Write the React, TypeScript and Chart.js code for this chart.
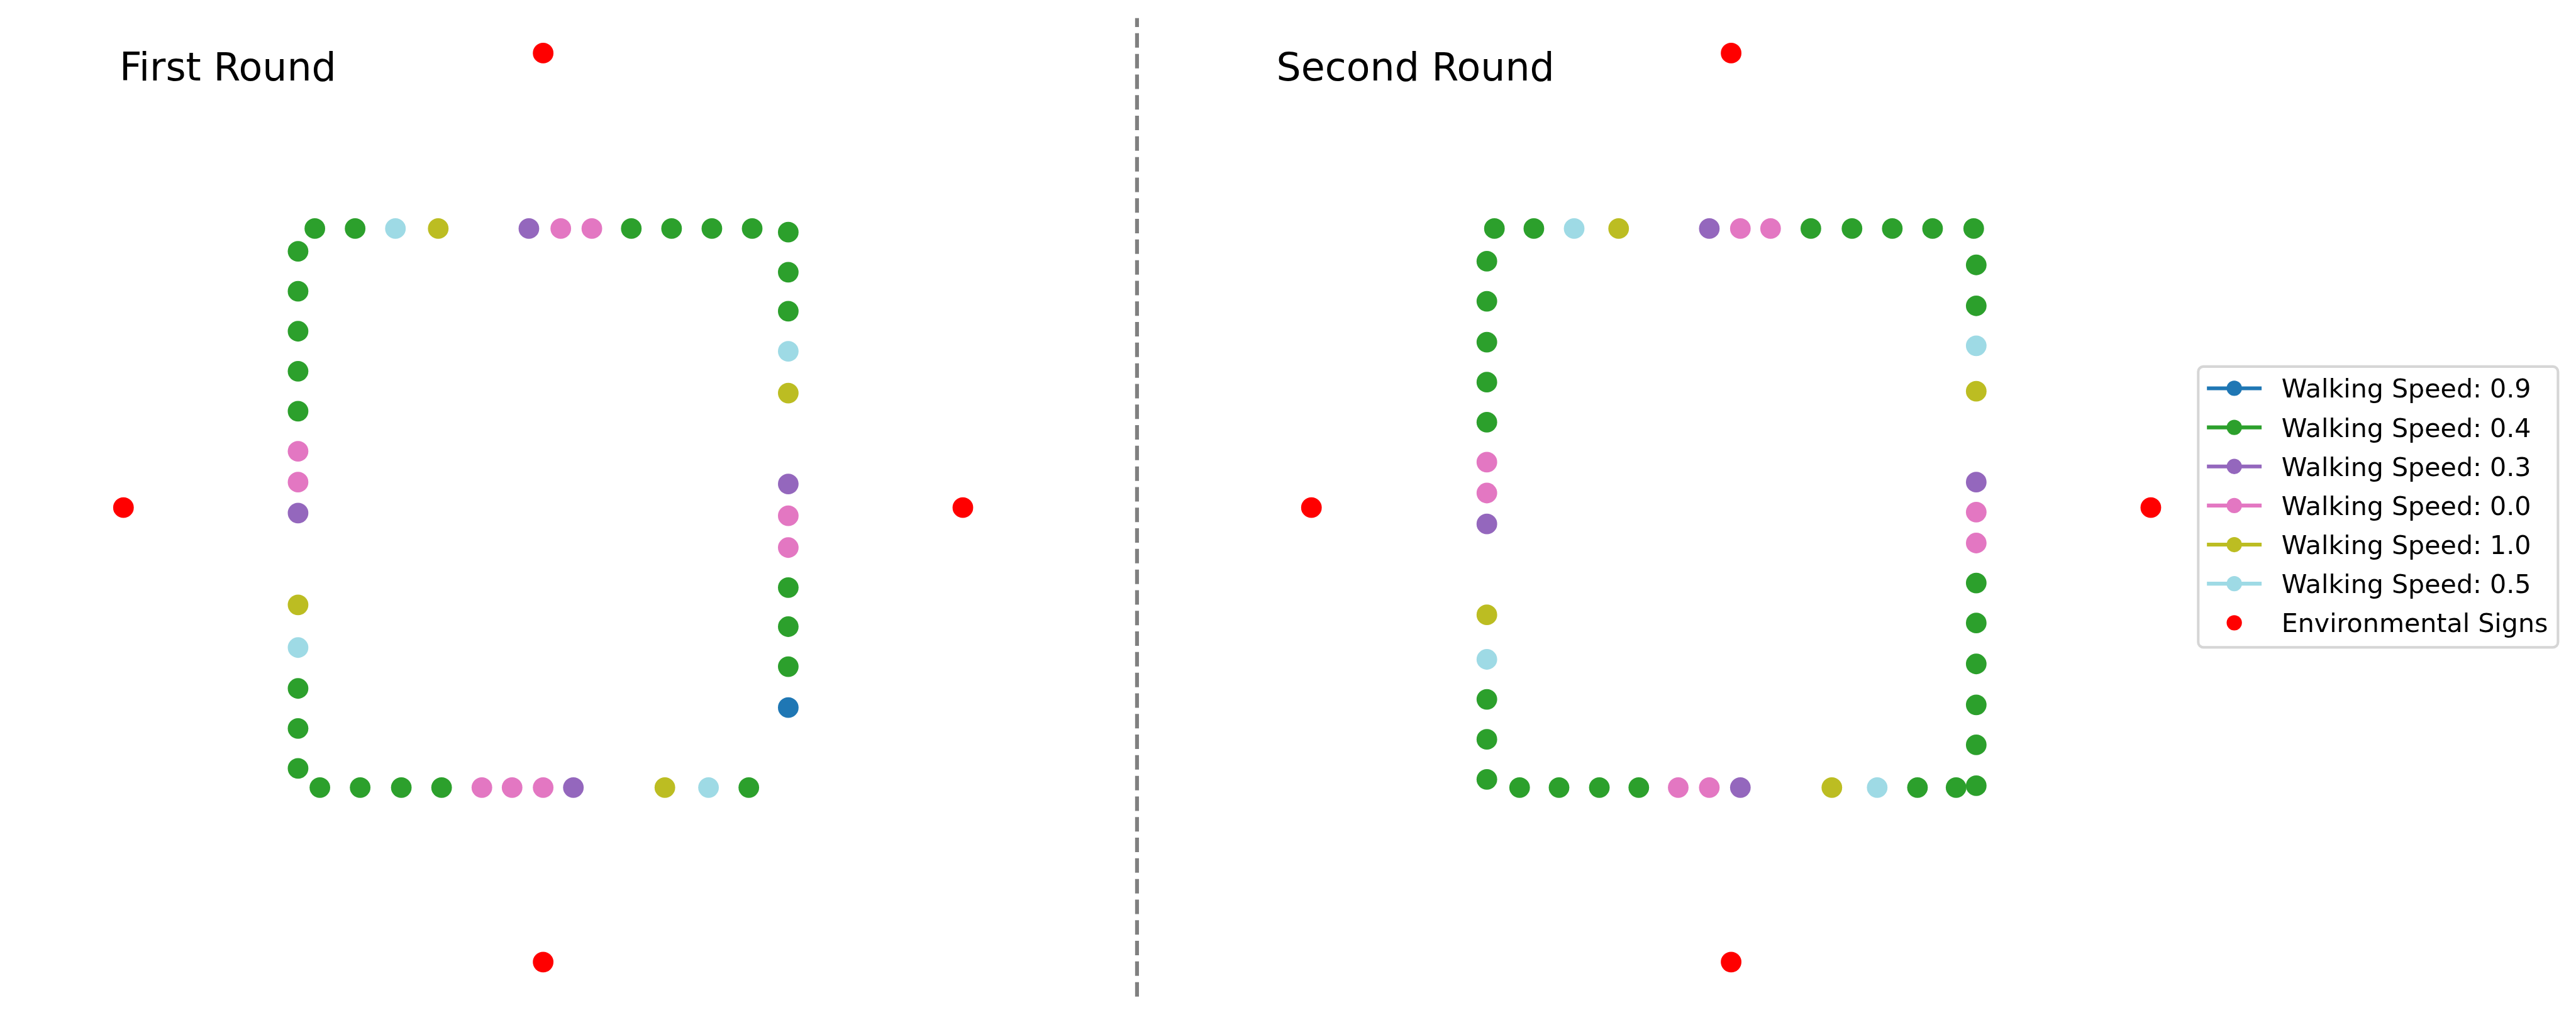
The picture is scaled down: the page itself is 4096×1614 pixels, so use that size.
import React, { useEffect, useRef } from 'react';
import { Chart, registerables } from 'chart.js';

Chart.register(...registerables);

// ---------------- data ----------------
const SPEEDS = [0.9, 0.4, 0.3, 0.0, 1.0, 0.5];
const SPEED_LABELS = [
  'Walking Speed: 0.9',
  'Walking Speed: 0.4',
  'Walking Speed: 0.3',
  'Walking Speed: 0.0',
  'Walking Speed: 1.0',
  'Walking Speed: 0.5',
];
const SPEED_COLORS = ['#1f77b4', '#2ca02c', '#9467bd', '#e377c2', '#bcbd22', '#9edae5'];
const SIGN_LABEL = 'Environmental Signs';
const SIGN_COLOR = '#ff0000';
const SIGN_X = [5, 0, 10, 5];
const SIGN_Y = [10, 5, 5, 0];

const ROUND_TITLES = ['First Round', 'Second Round'];

// Round 1: top row, right column, bottom row (right to left), left column (bottom to top)
const R1_X = [
  2.28, 2.76, 3.24, 3.75, 4.83, 5.21, 5.58, 6.05, 6.53, 7.01, 7.49,
  7.92, 7.92, 7.92, 7.92, 7.92, 7.92, 7.92, 7.92, 7.92, 7.92, 7.92, 7.92,
  7.45, 6.97, 6.45, 5.36, 5.0, 4.63, 4.27, 3.79, 3.31, 2.82, 2.34,
  2.08, 2.08, 2.08, 2.08, 2.08, 2.08, 2.08, 2.08, 2.08, 2.08, 2.08, 2.08, 2.08,
];
const R1_Y = [
  8.07, 8.07, 8.07, 8.07, 8.07, 8.07, 8.07, 8.07, 8.07, 8.07, 8.07,
  8.03, 7.59, 7.16, 6.72, 6.26, 5.26, 4.91, 4.56, 4.12, 3.69, 3.25, 2.8,
  1.92, 1.92, 1.92, 1.92, 1.92, 1.92, 1.92, 1.92, 1.92, 1.92, 1.92,
  2.13, 2.57, 3.01, 3.46, 3.93, 4.94, 5.28, 5.62, 6.06, 6.5, 6.94, 7.38, 7.82,
];
const R1_SPEED = [
  0.4, 0.4, 0.5, 1.0, 0.3, 0.0, 0.0, 0.4, 0.4, 0.4, 0.4,
  0.4, 0.4, 0.4, 0.5, 1.0, 0.3, 0.0, 0.0, 0.4, 0.4, 0.4, 0.9,
  0.4, 0.5, 1.0, 0.3, 0.0, 0.0, 0.0, 0.4, 0.4, 0.4, 0.4,
  0.4, 0.4, 0.4, 0.5, 1.0, 0.3, 0.0, 0.0, 0.4, 0.4, 0.4, 0.4, 0.4,
];

// Round 2
const R2_X = [
  2.18, 2.65, 3.13, 3.66, 4.74, 5.11, 5.47, 5.95, 6.44, 6.92, 7.4, 7.89,
  7.92, 7.92, 7.92, 7.92, 7.92, 7.92, 7.92, 7.92, 7.92, 7.92, 7.92, 7.92, 7.92,
  7.68, 7.22, 6.74, 6.2, 5.11, 4.74, 4.37, 3.9, 3.43, 2.95, 2.48,
  2.09, 2.09, 2.09, 2.09, 2.09, 2.09, 2.09, 2.09, 2.09, 2.09, 2.09, 2.09, 2.09,
];
const R2_Y = [
  8.07, 8.07, 8.07, 8.07, 8.07, 8.07, 8.07, 8.07, 8.07, 8.07, 8.07, 8.07,
  7.67, 7.22, 6.78, 6.28, 5.28, 4.95, 4.61, 4.17, 3.73, 3.28, 2.83, 2.39, 1.94,
  1.92, 1.92, 1.92, 1.92, 1.92, 1.92, 1.92, 1.92, 1.92, 1.92, 1.92,
  2.01, 2.45, 2.89, 3.33, 3.82, 4.82, 5.16, 5.5, 5.94, 6.38, 6.82, 7.27, 7.71,
];
const R2_SPEED = [
  0.4, 0.4, 0.5, 1.0, 0.3, 0.0, 0.0, 0.4, 0.4, 0.4, 0.4, 0.4,
  0.4, 0.4, 0.5, 1.0, 0.3, 0.0, 0.0, 0.4, 0.4, 0.4, 0.4, 0.4, 0.4,
  0.4, 0.4, 0.5, 1.0, 0.3, 0.0, 0.0, 0.4, 0.4, 0.4, 0.4,
  0.4, 0.4, 0.4, 0.5, 1.0, 0.3, 0.0, 0.0, 0.4, 0.4, 0.4, 0.4, 0.4,
];

const AXIS_MIN = -0.5;
const AXIS_MAX = 10.5;

// ---------------- layout (reference px, scaled by S) ----------------
const S = 4096 / 4146;
const W = 4096;
const H = 1614;
const LEFT_W = 1877;
const RIGHT_W = W - LEFT_W;
const FONT_FAMILY = '"DejaVu Sans", "Liberation Sans", sans-serif';

const AX_TOP = 12.35;
const AX_BOTTOM = 1621.65;
const AX1_LEFT = 131.15;
const AX1_RIGHT = 1617.25;
const AX2_LEFT = 2043.15;
const AX2_RIGHT = 3529.25;
const POINT_R = 16.6 * S;

function buildDatasets(xs: number[], ys: number[], sp: number[]) {
  const ds: any[] = SPEEDS.map((s, i) => ({
    label: SPEED_LABELS[i],
    data: xs
      .map((x, k) => ({ x, y: ys[k], s: sp[k] }))
      .filter((p) => p.s === s)
      .map((p) => ({ x: p.x, y: p.y })),
    backgroundColor: SPEED_COLORS[i],
    borderColor: SPEED_COLORS[i],
    pointBackgroundColor: SPEED_COLORS[i],
    pointRadius: POINT_R,
    pointHoverRadius: POINT_R,
    pointBorderWidth: 0,
    borderWidth: 0,
    showLine: false,
    clip: false,
  }));
  ds.push({
    label: SIGN_LABEL,
    data: SIGN_X.map((x, k) => ({ x, y: SIGN_Y[k] })),
    backgroundColor: SIGN_COLOR,
    borderColor: SIGN_COLOR,
    pointBackgroundColor: SIGN_COLOR,
    pointRadius: POINT_R,
    pointHoverRadius: POINT_R,
    pointBorderWidth: 0,
    borderWidth: 0,
    showLine: false,
    clip: false,
  });
  return ds;
}

function titlePlugin(text: string, x: number, y: number) {
  return {
    id: 'panelTitle',
    afterDraw(chart: any) {
      const ctx = chart.ctx;
      ctx.save();
      ctx.font = `${62.5 * S}px ${FONT_FAMILY}`;
      ctx.fillStyle = '#000000';
      ctx.textAlign = 'left';
      ctx.textBaseline = 'alphabetic';
      ctx.fillText(text, x, y);
      ctx.restore();
    },
  };
}

const dividerPlugin = {
  id: 'divider',
  afterDraw(chart: any) {
    const ctx = chart.ctx;
    ctx.save();
    ctx.strokeStyle = '#808080';
    ctx.lineWidth = 6.25 * S;
    ctx.lineCap = 'butt';
    ctx.setLineDash([23.3 * S, 9.9 * S]);
    ctx.beginPath();
    ctx.moveTo(1830 * S, 1604 * S);
    ctx.lineTo(1830 * S, 29 * S);
    ctx.stroke();
    ctx.restore();
  },
};

function legendPlugin(offsetX: number) {
  const fx = (v: number) => v * S - offsetX;
  const fy = (v: number) => v * S;
  return {
    id: 'boxLegend',
    afterDraw(chart: any) {
      const ctx = chart.ctx;
      ctx.save();
      const x0 = fx(3538);
      const x1 = fx(4117);
      const y0 = fy(590);
      const y1 = fy(1042);
      const r = 8.3 * S;
      ctx.beginPath();
      ctx.moveTo(x0 + r, y0);
      ctx.lineTo(x1 - r, y0);
      ctx.arcTo(x1, y0, x1, y0 + r, r);
      ctx.lineTo(x1, y1 - r);
      ctx.arcTo(x1, y1, x1 - r, y1, r);
      ctx.lineTo(x0 + r, y1);
      ctx.arcTo(x0, y1, x0, y1 - r, r);
      ctx.lineTo(x0, y0 + r);
      ctx.arcTo(x0, y0, x0 + r, y0, r);
      ctx.closePath();
      ctx.fillStyle = 'rgba(255,255,255,0.8)';
      ctx.fill();
      ctx.strokeStyle = 'rgba(204,204,204,0.8)';
      ctx.lineWidth = 4.17 * S;
      ctx.stroke();

      const entries = SPEED_LABELS.map((l, i) => ({ label: l, color: SPEED_COLORS[i], line: true }));
      entries.push({ label: SIGN_LABEL, color: SIGN_COLOR, line: false });
      ctx.font = `${41.67 * S}px ${FONT_FAMILY}`;
      ctx.textAlign = 'left';
      ctx.textBaseline = 'alphabetic';
      entries.forEach((e, i) => {
        const cy = fy(625 + i * 62.9);
        if (e.line) {
          ctx.strokeStyle = e.color;
          ctx.lineWidth = 6.25 * S;
          ctx.beginPath();
          ctx.moveTo(fx(3552), cy);
          ctx.lineTo(fx(3640), cy);
          ctx.stroke();
        }
        ctx.fillStyle = e.color;
        ctx.beginPath();
        ctx.arc(fx(3596), cy, 12.3 * S, 0, Math.PI * 2);
        ctx.fill();
        ctx.fillStyle = '#000000';
        ctx.fillText(e.label, fx(3672), cy + 15.2 * S);
      });
      ctx.restore();
    },
  };
}

function makeConfig(datasets: any[], padding: any, plugins: any[]) {
  return {
    type: 'scatter' as const,
    data: { datasets },
    options: {
      responsive: false,
      animation: false as const,
      devicePixelRatio: 1,
      events: [],
      layout: { padding, autoPadding: false },
      scales: {
        x: { type: 'linear' as const, min: AXIS_MIN, max: AXIS_MAX, display: false },
        y: { type: 'linear' as const, min: AXIS_MIN, max: AXIS_MAX, display: false },
      },
      plugins: {
        legend: { display: false },
        tooltip: { enabled: false },
        title: { display: false },
      },
    },
    plugins,
  };
}

export default function App() {
  const leftRef = useRef<HTMLCanvasElement | null>(null);
  const rightRef = useRef<HTMLCanvasElement | null>(null);

  useEffect(() => {
    if (!leftRef.current || !rightRef.current) return;
    const c1 = new Chart(
      leftRef.current,
      makeConfig(
        buildDatasets(R1_X, R1_Y, R1_SPEED),
        {
          left: AX1_LEFT * S,
          right: LEFT_W - AX1_RIGHT * S,
          top: AX_TOP * S,
          bottom: H - AX_BOTTOM * S,
        },
        [titlePlugin(ROUND_TITLES[0], 192.2 * S, 130 * S), dividerPlugin]
      ) as any
    );
    const c2 = new Chart(
      rightRef.current,
      makeConfig(
        buildDatasets(R2_X, R2_Y, R2_SPEED),
        {
          left: AX2_LEFT * S - LEFT_W,
          right: RIGHT_W - (AX2_RIGHT * S - LEFT_W),
          top: AX_TOP * S,
          bottom: H - AX_BOTTOM * S,
        },
        [titlePlugin(ROUND_TITLES[1], 2054.4 * S - LEFT_W, 130 * S), legendPlugin(LEFT_W)]
      ) as any
    );
    return () => {
      c1.destroy();
      c2.destroy();
    };
  }, []);

  return (
    <div
      style={{
        position: 'absolute',
        left: 0,
        top: 0,
        width: W,
        height: H,
        background: '#ffffff',
        overflow: 'hidden',
      }}
    >
      <canvas
        ref={leftRef}
        width={LEFT_W}
        height={H}
        style={{ position: 'absolute', left: 0, top: 0, width: LEFT_W, height: H }}
      />
      <canvas
        ref={rightRef}
        width={RIGHT_W}
        height={H}
        style={{ position: 'absolute', left: LEFT_W, top: 0, width: RIGHT_W, height: H }}
      />
    </div>
  );
}
